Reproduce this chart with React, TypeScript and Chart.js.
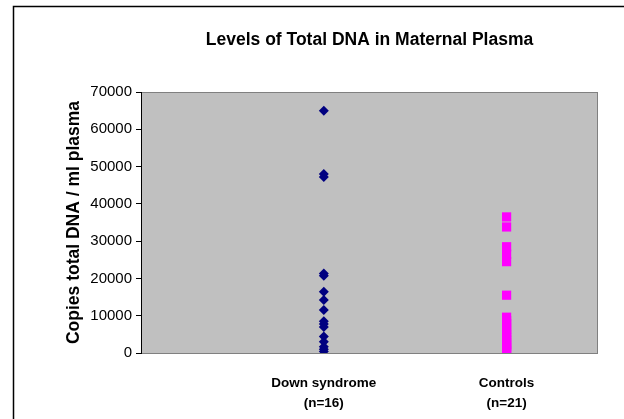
import React, { useEffect, useRef } from "react";
import { Chart, registerables } from "chart.js";

Chart.register(...registerables);

const chartTitle = "Levels of Total DNA in Maternal Plasma";
const yAxisTitle = "Copies total DNA / ml plasma";
const categories = ["Down syndrome", "Controls"];
const categoryCounts = ["(n=16)", "(n=21)"];
const downSyndrome = [65000, 48000, 47200, 21300, 20700, 16400, 14200, 11500, 8500, 7800, 7000, 4400, 3000, 1700, 1000, 400];
const controls = [36500, 33800, 28500, 26500, 24500, 15500, 9600, 8700, 7900, 7000, 6300, 5500, 4800, 4200, 3500, 2900, 2300, 1800, 1300, 800, 400];
const yTicks = [0, 10000, 20000, 30000, 40000, 50000, 60000, 70000];

const FONT = "'Liberation Sans', Arial, sans-serif";

const framePlugin = {
  id: "frame",
  beforeDraw(chart: any) {
    const { ctx, chartArea } = chart;
    ctx.save();
    ctx.fillStyle = "#ffffff";
    ctx.fillRect(0, 0, chart.width, chart.height);
    ctx.strokeStyle = "#000000";
    ctx.lineWidth = 1.5;
    ctx.beginPath();
    ctx.moveTo(13.5, chart.height);
    ctx.lineTo(13.5, 6.5);
    ctx.lineTo(chart.width, 6.5);
    ctx.stroke();
    ctx.fillStyle = "#C0C0C0";
    ctx.fillRect(chartArea.left, chartArea.top, chartArea.right - chartArea.left, chartArea.bottom - chartArea.top);
    ctx.strokeStyle = "#808080";
    ctx.lineWidth = 1;
    ctx.strokeRect(chartArea.left + 0.5, chartArea.top + 0.5, chartArea.right - chartArea.left - 1, chartArea.bottom - chartArea.top);
    ctx.fillStyle = "#000000";
    ctx.font = `bold 17.5px ${FONT}`;
    ctx.textAlign = "center";
    ctx.textBaseline = "middle";
    ctx.fillText(chartTitle, (chartArea.left + chartArea.right) / 2, 40);
    ctx.restore();
  },
};

export default function App() {
  const ref = useRef<HTMLCanvasElement | null>(null);
  useEffect(() => {
    if (!ref.current) return;
    const chart = new Chart(ref.current, {
      type: "scatter",
      data: {
        datasets: [
          {
            label: categories[0],
            data: downSyndrome.map((v) => ({ x: 1, y: v })),
            pointStyle: "rectRot",
            pointRadius: 5,
            pointBorderWidth: 0,
            backgroundColor: "#000080",
            borderColor: "#000080",
          },
          {
            label: categories[1],
            data: controls.map((v) => ({ x: 2, y: v })),
            pointStyle: "rect",
            pointRadius: 6.5,
            pointBorderWidth: 0,
            backgroundColor: "#FF00FF",
            borderColor: "#FF00FF",
          },
        ],
      },
      plugins: [framePlugin],
      options: {
        animation: false,
        responsive: false,
        events: [],
        layout: { padding: { left: 0, right: 26, top: 92, bottom: 0 } },
        plugins: { legend: { display: false }, tooltip: { enabled: false }, title: { display: false } },
        scales: {
          x: {
            type: "linear",
            min: 0,
            max: 2.5,
            afterBuildTicks: (scale: any) => {
              scale.ticks = categories.map((_, i) => ({ value: i + 1 }));
            },
            afterFit: (scale: any) => {
              scale.height = 66;
            },
            grid: { display: false, drawTicks: false },
            border: { display: false },
            ticks: {
              autoSkip: false,
              maxRotation: 0,
              padding: 20,
              color: "#000000",
              font: { family: FONT, size: 13.5, weight: "bold", lineHeight: 1.48 },
              callback: (value: any) => {
                const i = Math.round(Number(value)) - 1;
                return [categories[i], categoryCounts[i]];
              },
            },
          },
          y: {
            min: 0,
            max: 70000,
            afterBuildTicks: (scale: any) => {
              scale.ticks = yTicks.map((v) => ({ value: v }));
            },
            afterFit: (scale: any) => {
              scale.width = 141;
            },
            grid: { drawOnChartArea: false, drawTicks: true, tickLength: 5, color: "#000000" },
            border: { display: true, color: "#000000", width: 1 },
            ticks: {
              padding: 4,
              color: "#000000",
              font: { family: FONT, size: 15 },
              callback: (value: any) => String(value),
            },
            title: {
              display: true,
              text: yAxisTitle,
              color: "#000000",
              font: { family: FONT, size: 17.5, weight: "bold" },
              padding: { top: 64, bottom: 0 },
            },
          },
        },
      },
    });
    return () => chart.destroy();
  }, []);
  return (
    <div style={{ position: "absolute", left: 0, top: 0, width: 624, height: 419 }}>
      <canvas ref={ref} width={624} height={419} style={{ display: "block" }} />
    </div>
  );
}
